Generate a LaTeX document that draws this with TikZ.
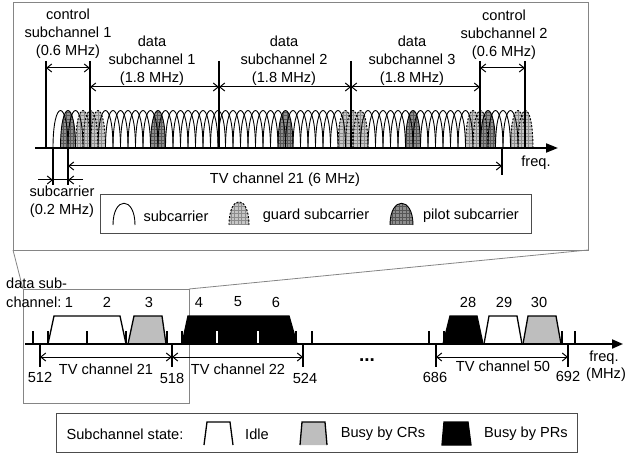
\documentclass[tikz,border=0pt]{standalone}
\usepackage{fontspec}
\setmainfont{Liberation Sans}
\usetikzlibrary{arrows.meta}
\definecolor{framegray}{HTML}{858585}
\definecolor{guardfill}{HTML}{C6C6C6}
\definecolor{guardgrid}{HTML}{8C8C8C}
\definecolor{pilotfill}{HTML}{8E8E8E}
\definecolor{pilotgrid}{HTML}{555555}
\definecolor{crgray}{HTML}{BEBEBE}
\tikzset{
 txt/.style={font=\fontsize{14.6}{18}\selectfont, inner sep=0pt, align=center},
 frame/.style={draw=framegray, line width=0.8pt},
 legframe/.style={draw=black!70, line width=0.9pt},
 bar/.style={line width=2pt},
 dimline/.style={line width=1pt, {Straight Barb[length=5pt,width=8pt]}-{Straight Barb[length=5pt,width=8pt]}},
 dimone/.style={line width=1pt, -{Straight Barb[length=5pt,width=8pt]}},
 axisline/.style={line width=2pt, -{Triangle[length=12pt,width=9pt]}},
 archline/.style={line width=0.9pt},
 guardline/.style={line width=0.9pt, dash pattern=on 2pt off 1.5pt},
 trap/.style={line width=1.3pt, line join=miter},
}
\begin{document}
\begin{tikzpicture}[x=1pt,y=-1pt]
\useasboundingbox (0,0) rectangle (629,457);
% ---------- frames and zoom lines
\coordinate (tbl) at (13,250); \coordinate (tbr) at (588,250);
\coordinate (sbl) at (23,289); \coordinate (sbr) at (189,289);
\draw[frame] (13,2) rectangle (588,250);
\draw[frame] (23,289) rectangle (189,403);
\draw[frame] (tbl) -- (sbl);
\draw[frame] (tbr) -- (sbr);
% ---------- shaded subcarriers (fills)
\foreach \k in {3,4,5,38,39,40,55,56,61,62} {
  \pgfmathsetmacro\cx{60.5+7.5*\k}
  \begin{scope}
    \clip (\cx-7.5,148) .. controls (\cx-7.5,98) and (\cx+7.5,98) .. (\cx+7.5,148) -- cycle;
    \fill[guardfill] (\cx-8,95) rectangle (\cx+8,149);
    \draw[guardgrid, line width=0.4pt] (\cx-8,95) grid[step=3.5pt] (\cx+8,149);
  \end{scope}
}
\foreach \k in {1,13,30,47,57} {
  \pgfmathsetmacro\cx{60.5+7.5*\k}
  \begin{scope}
    \clip (\cx-7.5,148) .. controls (\cx-7.5,98) and (\cx+7.5,98) .. (\cx+7.5,148) -- cycle;
    \fill[pilotfill] (\cx-8,95) rectangle (\cx+8,149);
    \draw[pilotgrid, line width=0.4pt] (\cx-8,95) grid[step=3.5pt] (\cx+8,149);
  \end{scope}
}
% ---------- outlines
\foreach \k in {0,2,6,7,8,9,10,11,12,14,15,16,17,18,19,20,21,22,23,24,25,26,27,28,29,31,32,33,34,35,36,37,41,42,43,44,45,46,48,49,50,51,52,53,54,58,59,60} {
  \pgfmathsetmacro\cx{60.5+7.5*\k}
  \draw[archline] (\cx-7.5,148) .. controls (\cx-7.5,98) and (\cx+7.5,98) .. (\cx+7.5,148);
}
\foreach \k in {3,4,5,38,39,40,55,56,61,62} {
  \pgfmathsetmacro\cx{60.5+7.5*\k}
  \draw[guardline] (\cx-7.5,148) .. controls (\cx-7.5,98) and (\cx+7.5,98) .. (\cx+7.5,148);
}
\foreach \k in {1,13,30,47,57} {
  \pgfmathsetmacro\cx{60.5+7.5*\k}
  \draw[archline] (\cx-7.5,148) .. controls (\cx-7.5,98) and (\cx+7.5,98) .. (\cx+7.5,148);
}
% ---------- top axis and boundaries
\coordinate (ta0) at (35,148); \coordinate (ta1) at (558,148);
\draw[axisline] (ta0) -- (ta1);
\node[txt] (tfreq) at (536,163) {freq.};
\foreach \x/\n in {46/b0,90/b1,219/b2,351/b3,480/b4,525/b5} {
  \coordinate (\n t) at (\x,61); \coordinate (\n b) at (\x,148);
  \draw[bar] (\n t) -- (\n b);
}
\draw[dimline] (46,68) -- (90,68);
\draw[dimline] (90,87) -- (219,87);
\draw[dimline] (219,87) -- (351,87);
\draw[dimline] (351,87) -- (480,87);
\draw[dimline] (480,68) -- (525,68);
\node[txt] (c1) at (68,34) {control\\subchannel 1\\(0.6 MHz)};
\node[txt] (d1) at (152,61) {data\\subchannel 1\\(1.8 MHz)};
\node[txt] (d2) at (284,61) {data\\subchannel 2\\(1.8 MHz)};
\node[txt] (d3) at (412,61) {data\\subchannel 3\\(1.8 MHz)};
\node[txt] (c2) at (504,35) {control\\subchannel 2\\(0.6 MHz)};
% subcarrier width and TV channel
\draw[bar] (53,148) -- (53,185);
\draw[bar] (68,148) -- (68,185);
\draw[bar] (502,148) -- (502,175);
\draw[line width=1pt] (53,180) -- (68,180);
\draw[dimone] (38,180) -- (53,180);
\draw[dimone] (83,180) -- (68,180);
\draw[dimline] (68,166) -- (502,166);
\node[txt] (tv21top) at (285,180) {TV channel 21 (6 MHz)};
\node[txt] (scl) at (62,202) {subcarrier\\(0.2 MHz)};
% ---------- top legend
\draw[legframe] (100,194) rectangle (531,233);
\draw[archline] (113,225) .. controls (113,196) and (135,196) .. (135,225);
\node[txt] (lg1) at (176,216) {subcarrier};
\begin{scope}
  \clip (229,225) .. controls (229,194) and (249,194) .. (249,225) -- cycle;
  \fill[guardfill] (227,195) rectangle (251,226);
  \draw[guardgrid, line width=0.4pt] (227,195) grid[step=3.5pt] (251,226);
\end{scope}
\draw[guardline] (229,225) .. controls (229,194) and (249,194) .. (249,225);
\node[txt] (lg2) at (316,216) {guard subcarrier};
\begin{scope}
  \clip (390,225) .. controls (390,196) and (413,196) .. (413,225) -- cycle;
  \fill[pilotfill] (388,195) rectangle (415,226);
  \draw[pilotgrid, line width=0.4pt] (388,195) grid[step=3.5pt] (415,226);
\end{scope}
\draw[archline] (390,225) .. controls (390,196) and (413,196) .. (413,225);
\node[txt] (lg3) at (471,216) {pilot subcarrier};
% ---------- bottom spectrum
\node[txt, anchor=west] (dsub) at (6,283) {data sub-};
\node[txt, anchor=west] (dchan) at (6,302) {channel:};
\foreach \x/\t in {69/1,107/2,149/3,199/4,238/5,276/6,468/28,504/29,539/30} {
  \node[txt] (n\t) at (\x,302) {\t};
}
\filldraw[trap, fill=white] (48,344) -- (54,316) -- (120,316) -- (126,344);
\filldraw[trap, fill=crgray] (128,344) -- (134,316) -- (162,316) -- (166,344);
\filldraw[trap, fill=black] (182,344) -- (188,316) -- (289,316) -- (297,344);
\filldraw[trap, fill=black] (443,344) -- (450,316) -- (477,316) -- (483,344);
\filldraw[trap, fill=white] (484,344) -- (489,316) -- (517,316) -- (522,344);
\filldraw[trap, fill=crgray] (523,344) -- (528,316) -- (556,316) -- (561,344);
\foreach \x in {33,48,87,126,167,182,296,312,429,444,562,575} {
  \draw[bar] (\x,331) -- (\x,344);
}
\foreach \x in {217,258} {
  \draw[bar, white] (\x,331) -- (\x,343);
}
\coordinate (ba0) at (25,344); \coordinate (ba1) at (623,344);
\draw[line width=2pt, -{Triangle[length=11pt,width=9pt]}] (ba0) -- (ba1);
\foreach \x/\n in {40/f512,172/f518,303/f524,436/f686,568/f692} {
  \coordinate (\n) at (\x,357);
  \draw[bar] (\x,344) -- (\x,367);
}
\draw[dimline] (f512) -- (f518);
\draw[dimline] (f518) -- (f524);
\draw[dimline] (f686) -- (f692);
\node[txt] (l512) at (40,377) {512};
\node[txt] (ltv21) at (106,369) {TV channel 21};
\node[txt] (l518) at (172,378) {518};
\node[txt] (ltv22) at (238,369) {TV channel 22};
\node[txt] (l524) at (305,378) {524};
\node[txt, font=\fontsize{19}{20}\selectfont\bfseries] (dots) at (367,360) {...};
\node[txt] (l686) at (435,377) {686};
\node[txt] (ltv50) at (503,366) {TV channel 50};
\node[txt] (l692) at (568,376) {692};
\node[txt] (bfreq) at (604,358) {freq.};
\node[txt] (bmhz) at (606,375) {(MHz)};
% ---------- bottom legend
\draw[legframe] (56,413) rectangle (577,452);
\node[txt] (ss) at (125,434) {Subchannel state:};
\draw[trap] (204,445) -- (207,422) -- (230,422) -- (233,445);
\node[txt] (lidle) at (257,434) {Idle};
\filldraw[trap, fill=crgray] (300,445) -- (302,422) -- (325,422) -- (327,445);
\node[txt] (lcr) at (383,434) {Busy by CRs};
\filldraw[trap, fill=black] (442,445) -- (444,422) -- (468,422) -- (471,445) -- cycle;
\node[txt] (lpr) at (526,434) {Busy by PRs};
\end{tikzpicture}
\end{document}
